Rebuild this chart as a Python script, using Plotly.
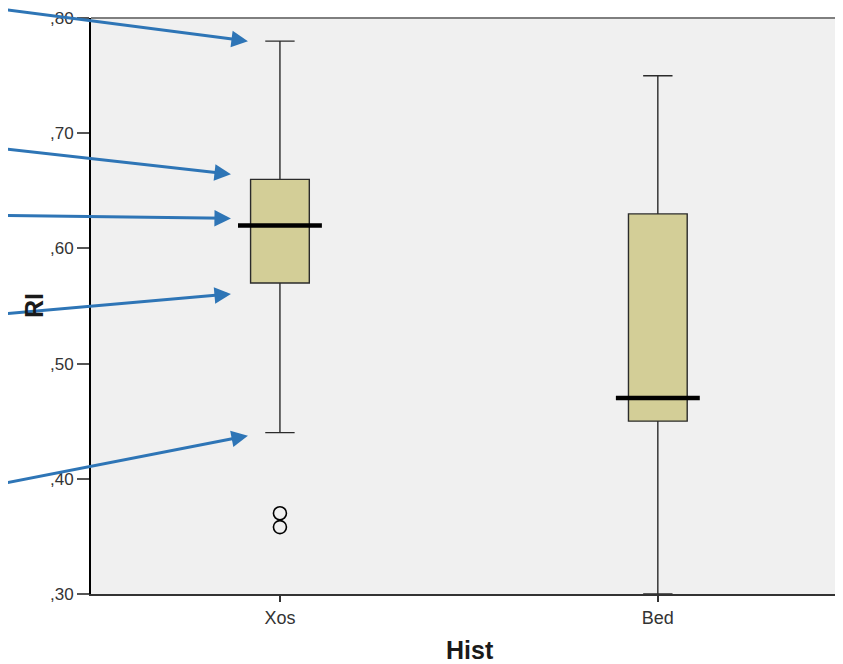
import plotly.graph_objects as go

categories = ["Xos", "Bed"]
q1 = [0.57, 0.45]
median = [0.62, 0.47]
q3 = [0.66, 0.63]
lowerfence = [0.44, 0.30]
upperfence = [0.78, 0.75]
outlier_x = ["Xos", "Xos"]
outlier_y = [0.370, 0.358]
y_tickvals = [0.30, 0.40, 0.50, 0.60, 0.70, 0.80]
y_ticktext = [",30", ",40", ",50", ",60", ",70", ",80"]

BOXGAP = 0.778
HALF = (1 - BOXGAP) / 2

fig = go.Figure()
fig.add_trace(go.Box(
    x=categories, q1=q1, median=median, q3=q3,
    lowerfence=lowerfence, upperfence=upperfence,
    fillcolor="#d3ce97", line=dict(color="#2b2b2b", width=1.4),
    whiskerwidth=0.5, boxpoints=False, showlegend=False,
))
fig.add_trace(go.Scatter(
    x=outlier_x, y=outlier_y, mode="markers",
    marker=dict(symbol="circle-open", size=13, color="black", line=dict(width=1.6)),
    showlegend=False, cliponaxis=False,
))

shapes = []
for i, m in enumerate(median):
    shapes.append(dict(type="line", xref="x", yref="y", x0=i - HALF, x1=i + HALF,
                       y0=m, y1=m, line=dict(color="black", width=4.5)))
shapes.append(dict(type="line", xref="paper", yref="paper", x0=0, x1=1, y0=1, y1=1,
                   line=dict(color="#7f7f7f", width=2)))

# arrows pointing at the Xos box statistics
arrow_stats = [upperfence[0], q3[0], median[0], q1[0], lowerfence[0]]
arrow_geom = [  # xshift, yshift, ax, ay (pixels)
    (-32, 0, -256, -50),
    (-49, 5, -239, -27),
    (-49, 7, -239, -3),
    (-49, -11, -239, 21),
    (-32, -3, -256, 50),
]
annotations = []
for val, (xs, ys, ax, ay) in zip(arrow_stats, arrow_geom):
    annotations.append(dict(
        x=0, y=val, xref="x", yref="y", xshift=xs, yshift=ys,
        ax=ax, ay=ay, axref="pixel", ayref="pixel", text="",
        showarrow=True, arrowhead=2, arrowsize=1.1, arrowwidth=3,
        arrowcolor="#2e75b6", standoff=0,
    ))
annotations.append(dict(text="<b>RI</b>", x=0, y=0.5, xref="paper", yref="paper",
                        xshift=-57, textangle=-90, showarrow=False,
                        xanchor="center", yanchor="middle",
                        font=dict(size=25, color="#1a1a1a")))
annotations.append(dict(text="<b>Hist</b>", x=0.504, y=0, xref="paper", yref="paper",
                        yshift=-56, showarrow=False, xanchor="center", yanchor="middle",
                        font=dict(size=25, color="#1a1a1a")))

fig.update_layout(
    width=835, height=656,
    margin=dict(l=83, r=0, t=10, b=70),
    paper_bgcolor="white", plot_bgcolor="#f0f0f0",
    font=dict(family="Liberation Sans, Arial, sans-serif", size=17, color="#333"),
    boxgap=BOXGAP,
    shapes=shapes, annotations=annotations,
    xaxis=dict(type="category", range=[-0.5, 1.49], showline=True, linecolor="#333",
               linewidth=2, ticks="outside", ticklen=6, tickcolor="#333", tickwidth=1.5,
               showgrid=False, zeroline=False, fixedrange=True, automargin=False,
               tickfont=dict(size=18)),
    yaxis=dict(range=[0.2999, 0.8001], tickvals=y_tickvals, ticktext=y_ticktext,
               showline=True, linecolor="black", linewidth=2, ticks="outside",
               ticklen=12, tickcolor="#555", tickwidth=2, showgrid=False,
               zeroline=False, tickfont=dict(size=17), ticklabeloverflow="allow",
               automargin=False),
)
fig.write_html("out.html")
